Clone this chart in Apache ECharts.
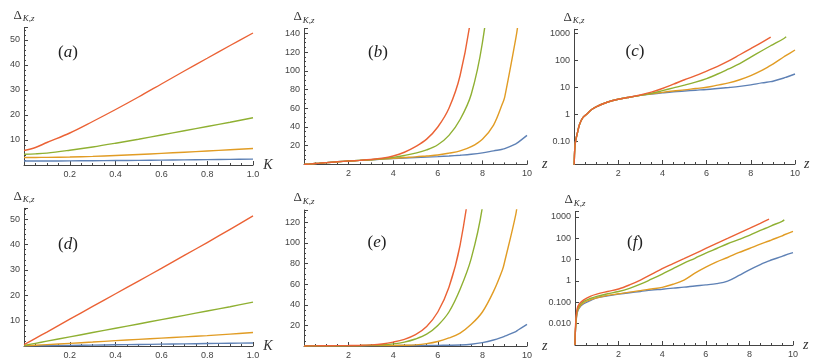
<!DOCTYPE html>
<html>
<head>
<meta charset="utf-8">
<script src="https://cdn.jsdelivr.net/npm/echarts@6.0.0/dist/echarts.min.js"></script>
<style>
  html, body { margin: 0; padding: 0; background: #fff; }
  #chart { width: 814px; height: 360px; }
</style>
</head>
<body>
<div id="chart"></div>
<script>
// K grid for panels (a) and (d)
const kVals = [0, 0.05, 0.1, 0.2, 0.3, 0.4, 0.5, 0.6, 0.7, 0.8, 0.9, 1.0];
const blueA = [1.6, 1.6, 1.61, 1.65, 1.71, 1.78, 1.86, 1.95, 2.04, 2.14, 2.24, 2.35];
const orangeA = [3.0, 3.02, 3.06, 3.2, 3.45, 3.8, 4.2, 4.65, 5.1, 5.6, 6.1, 6.6];
const greenA = [4.3, 4.45, 4.75, 5.9, 7.2, 8.7, 10.3, 12.0, 13.7, 15.4, 17.1, 18.9];
const redA = [5.8, 7.0, 9.0, 12.8, 17.4, 22.2, 27.2, 32.4, 37.6, 42.7, 47.8, 52.8];

const blueD = [0, 0.06, 0.12, 0.24, 0.36, 0.48, 0.6, 0.72, 0.84, 0.96, 1.08, 1.2];
const orangeD = [0.05, 0.3, 0.55, 1.05, 1.55, 2.1, 2.6, 3.1, 3.6, 4.1, 4.7, 5.3];
const greenD = [0.2, 1.05, 1.9, 3.6, 5.3, 7.0, 8.7, 10.4, 12.1, 13.8, 15.5, 17.3];
const redD = [0.5, 3.0, 5.5, 10.6, 15.6, 20.6, 25.6, 30.6, 35.7, 40.8, 46.0, 51.3];

// z grid for panels (b) and (c) (same curves, linear / log)
const zBC = [0, 0.01, 0.03, 0.07, 0.15, 0.25, 0.4, 0.6, 0.8, 1, 1.5, 2, 2.5, 3, 3.5, 4, 4.5, 5, 5.5, 6, 6.5, 7, 7.5, 8, 8.5, 8.9, 9, 9.5, 9.6, 10];
const blueBC = [0.005, 0.015, 0.045, 0.1, 0.2, 0.42, 0.75, 1.05, 1.5, 1.9, 2.8, 3.6, 4.3, 5.0, 5.6, 6.2, 6.8, 7.3, 7.8, 8.3, 9.0, 9.8, 10.8, 12.3, 14.5, 16.2, 16.8, 22, 23.5, 31];
const orangeBC = [0.005, 0.015, 0.045, 0.1, 0.2, 0.42, 0.75, 1.05, 1.5, 1.9, 2.8, 3.6, 4.3, 5.0, 5.7, 6.5, 7.3, 8.0, 9.0, 10, 12, 14.5, 19, 27, 42, 65, 72, 135, 151, 240];
const greenBC = [0.005, 0.015, 0.045, 0.1, 0.2, 0.42, 0.75, 1.05, 1.5, 1.9, 2.8, 3.6, 4.3, 5.0, 6.0, 7.5, 9.5, 12, 15.5, 21, 31, 48, 75, 130, 225, 345, 380, 640, 740, null];
const redBC = [0.005, 0.015, 0.045, 0.1, 0.2, 0.42, 0.75, 1.05, 1.5, 1.9, 2.8, 3.6, 4.3, 5.2, 6.6, 9, 13, 19, 27, 40, 60, 95, 160, 270, 460, 720, null, null, null, null];

// z grid for panels (e) and (f)
const zEF = [0, 0.01, 0.05, 0.1, 0.2, 0.4, 0.7, 1, 1.5, 2, 2.5, 3, 3.5, 4, 4.5, 5, 5.5, 6, 6.5, 7, 7.5, 8, 8.5, 8.9, 9, 9.5, 9.6, 10];
const blueEF = [0.001, 0.003, 0.012, 0.032, 0.055, 0.085, 0.12, 0.16, 0.2, 0.24, 0.28, 0.32, 0.37, 0.41, 0.46, 0.51, 0.58, 0.65, 0.75, 0.98, 1.75, 3.3, 5.8, 8.6, 9.5, 14, 15.5, 21];
const orangeEF = [0.001, 0.003, 0.013, 0.035, 0.06, 0.095, 0.13, 0.16, 0.21, 0.25, 0.3, 0.35, 0.42, 0.5, 0.7, 1.1, 2.3, 4.4, 7.8, 12.5, 21, 33, 53, 74, 82, 128, 145, 210];
const greenEF = [0.001, 0.003, 0.015, 0.04, 0.07, 0.11, 0.15, 0.19, 0.25, 0.32, 0.45, 0.7, 1.2, 2.1, 3.8, 6.8, 11.5, 20, 33, 55, 85, 135, 230, 340, 380, 620, 720, null];
const redEF = [0.001, 0.004, 0.02, 0.05, 0.085, 0.13, 0.19, 0.24, 0.32, 0.42, 0.65, 1.1, 2.0, 3.8, 6.5, 11, 19, 33, 57, 98, 170, 290, 500, 780, null, null, null, null];

const colors = ['#5E81B5', '#E19C24', '#8FB032', '#EB6235'];
const axisColor = '#444';
const labelStyle = { fontSize: 9, color: '#444', fontFamily: 'Liberation Sans' };
const serif = 'Liberation Serif';

const chart = echarts.init(document.getElementById('chart'));

const grids = [
  { left: 24, top: 27.5, width: 229, height: 137.5 },
  { left: 304, top: 28.7, width: 223, height: 135.7 },
  { left: 574, top: 29.3, width: 221, height: 134.7 },
  { left: 24, top: 208.3, width: 229, height: 139 },
  { left: 304, top: 210, width: 223, height: 136.4 },
  { left: 575, top: 211.7, width: 218, height: 133.3 }
];

function xAxis(idx, name, max, interval, gap, fmt) {
  return {
    type: 'value', gridIndex: idx, min: 0, max: max, interval: interval,
    name: name, nameLocation: 'end', nameGap: gap,
    nameTextStyle: { fontFamily: serif, fontStyle: 'italic', fontSize: 14, color: '#333', verticalAlign: 'middle' },
    axisLine: { show: true, onZero: false, lineStyle: { color: axisColor, width: 1 } },
    axisTick: { show: true, inside: true, length: 4, lineStyle: { color: axisColor } },
    minorTick: { show: true, splitNumber: 4, length: 2, lineStyle: { color: axisColor } },
    axisLabel: Object.assign({ margin: 5, formatter: fmt }, labelStyle),
    splitLine: { show: false }
  };
}

const deltaName = '{d|Δ}{s|K,z}';
const deltaStyle = {
  align: 'center',
  rich: {
    d: { fontFamily: serif, fontSize: 13, color: '#333' },
    s: { fontFamily: serif, fontStyle: 'italic', fontSize: 9, color: '#333', padding: [7, 0, 0, 1] }
  }
};

function yLinear(idx, max, interval) {
  return {
    type: 'value', gridIndex: idx, min: 0, max: max, interval: interval,
    name: deltaName, nameLocation: 'end', nameGap: 4, nameTextStyle: deltaStyle,
    axisLine: { show: true, onZero: false, lineStyle: { color: axisColor, width: 1 } },
    axisTick: { show: true, inside: true, length: 4, lineStyle: { color: axisColor } },
    minorTick: { show: true, splitNumber: interval === 10 ? 5 : 4, length: 2, lineStyle: { color: axisColor } },
    axisLabel: Object.assign({ margin: 4, formatter: v => (v > 0 && v % interval === 0) ? String(v) : '' }, labelStyle),
    splitLine: { show: false }
  };
}

function yLog(idx, min, max, digits) {
  return {
    type: 'log', logBase: 10, gridIndex: idx, min: min, max: max,
    name: deltaName, nameLocation: 'end', nameGap: 4, nameTextStyle: deltaStyle,
    axisLine: { show: true, onZero: false, lineStyle: { color: axisColor, width: 1 } },
    axisTick: { show: true, inside: true, length: 4, lineStyle: { color: axisColor } },
    minorTick: { show: false },
    axisLabel: Object.assign({
      margin: 4,
      formatter: v => {
        const l = Math.log10(v);
        if (Math.abs(l - Math.round(l)) > 0.01 || v < min * 1.5) return '';
        const p = Math.round(l);
        return p < 0 ? Math.pow(10, p).toFixed(digits) : String(Math.pow(10, p));
      }
    }, labelStyle),
    splitLine: { show: false }
  };
}

const fmtK = v => v > 0 ? v.toFixed(1) : '';
const fmtZ = v => v > 0 ? String(Math.round(v)) : '';

function pairs(xs, ys) {
  const out = [];
  xs.forEach((x, i) => { if (ys[i] !== null) out.push([x, ys[i]]); });
  return out;
}

const seriesList = [];
function addPanel(idx, xs, sets) {
  sets.forEach((ys, j) => {
    seriesList.push({
      type: 'line', xAxisIndex: idx, yAxisIndex: idx,
      data: pairs(xs, ys), showSymbol: false, smooth: 0.35,
      clip: true, silent: true,
      lineStyle: { color: colors[j], width: 1.4 }
    });
  });
}
addPanel(0, kVals, [blueA, orangeA, greenA, redA]);
addPanel(1, zBC, [blueBC, orangeBC, greenBC, redBC]);
addPanel(2, zBC, [blueBC, orangeBC, greenBC, redBC]);
addPanel(3, kVals, [blueD, orangeD, greenD, redD]);
addPanel(4, zEF, [blueEF, orangeEF, greenEF, redEF]);
addPanel(5, zEF, [blueEF, orangeEF, greenEF, redEF]);

const panelLabels = [['a', 68, 53], ['b', 378, 53], ['c', 635, 52], ['d', 68, 245], ['e', 377, 243], ['f', 635, 243]];

const option = {
  animation: false,
  grid: grids,
  xAxis: [
    xAxis(0, 'K', 1, 0.2, 6, fmtK),
    xAxis(1, 'z', 10, 2, 15, fmtZ),
    xAxis(2, 'z', 10, 2, 4, fmtZ),
    xAxis(3, 'K', 1, 0.2, 8, fmtK),
    xAxis(4, 'z', 10, 2, 15, fmtZ),
    xAxis(5, 'z', 10, 2, 10, fmtZ)
  ],
  yAxis: [
    yLinear(0, 55, 10),
    yLinear(1, 145, 20),
    yLog(2, 0.0145, 1400, 2),
    yLinear(3, 54.3, 10),
    yLinear(4, 132, 20),
    yLog(5, 0.001, 1740, 3)
  ],
  graphic: panelLabels.map(p => ({
    type: 'text', x: p[1], y: p[2], silent: true,
    style: {
      text: '({i|' + p[0] + '})',
      align: 'center', verticalAlign: 'middle',
      font: '17px "Liberation Serif"', fill: '#222',
      rich: { i: { fontStyle: 'italic', fontSize: 17, fontFamily: serif, fill: '#222' } }
    }
  })),
  series: seriesList
};

chart.setOption(option);
</script>
</body>
</html>
